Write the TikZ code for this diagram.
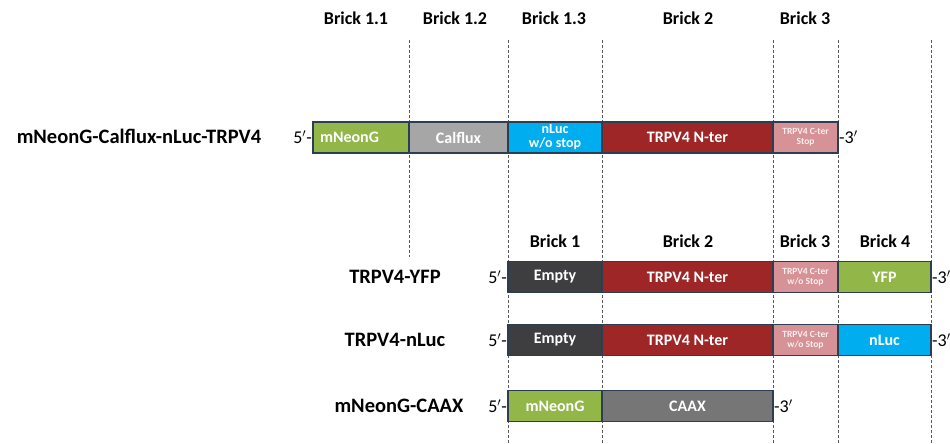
\documentclass[tikz,border=0pt]{standalone}
\usepackage{fontspec}
\setmainfont{Carlito}
\usetikzlibrary{positioning}
\definecolor{neon}{RGB}{146,182,72}
\definecolor{calflux}{RGB}{166,166,166}
\definecolor{luc}{RGB}{0,174,239}
\definecolor{nter}{RGB}{158,38,38}
\definecolor{cter}{RGB}{214,146,150}
\definecolor{empty}{RGB}{62,62,64}
\definecolor{caax}{RGB}{118,118,118}
\definecolor{rim}{RGB}{44,62,80}
\tikzset{brick/.style={font=\bfseries\fontsize{18}{19}\selectfont},
 construct/.style={font=\bfseries\fontsize{20.5}{21}\selectfont},
 seg/.style={draw=rim,line width=1.3pt,minimum height=31pt,inner sep=0pt,outer sep=0pt,
  text=white,font=\bfseries\fontsize{16}{16}\selectfont,align=center},
 small/.style={font=\bfseries\fontsize{9.5}{10}\selectfont,text=white!85!cter},
 guide/.style={densely dashed,gray!70!black,line width=.6pt},
 prime/.style={font=\fontsize{18}{18}\selectfont,inner sep=1pt}}

\begin{document}
\begin{tikzpicture}[x=1pt,y=-1pt]
\useasboundingbox (0,0) rectangle (950,444);
\foreach \gx/\gy in {409/257,508/444,602/444,773/444,838/444,931/444}
 \draw[guide] (\gx,40)--(\gx,\gy);
\foreach \bx/\lbl/\name in {356/1.1/ba,455/1.2/bb,554/1.3/bc,688/2/bd,805/3/be}
 \node[brick] (top\name) at (\bx,18) {Brick \lbl};
\foreach \bx/\lbl/\name in {555/1/ba,688/2/bb,805/3/bc,885/4/bd}
 \node[brick] (low\name) at (\bx,241) {Brick \lbl};
% first construct
\node[construct] (fusion) at (139,136) {mNeonG-Calflux-nLuc-TRPV4};
\node[seg,fill=neon,minimum width=96pt,text width=82pt,align=left] (fneon) at (361,137.5) {mNeonG};
\node[seg,fill=calflux,minimum width=99pt,right=0pt of fneon] (fcal) {Calflux};
\node[seg,fill=luc,minimum width=94pt,right=0pt of fcal,font=\bfseries\fontsize{14}{14}\selectfont] (fluc) {nLuc\\w/o stop};
\node[seg,fill=nter,minimum width=171pt,right=0pt of fluc] (fnter) {TRPV4 N-ter};
\node[seg,fill=cter,minimum width=65pt,right=0pt of fnter,small] (fcter) {TRPV4 C-ter\\Stop};
\node[prime,left=0pt of fneon] (f5) {5$'$-};
\node[prime,right=0pt of fcter] (f3) {-3$'$};
% fusions with TRPV4
\foreach \ry/\tag/\tail/\col/\name in {277/TRPV4-YFP/YFP/neon/yfp,340/TRPV4-nLuc/nLuc/luc/luc} {
 \node[construct] (\name) at (395,\ry) {\tag};
 \node[seg,fill=empty,minimum width=94pt] (\name a) at (555,\ry) {Empty};
 \node[seg,fill=nter,minimum width=171pt,right=0pt of \name a] (\name b) {TRPV4 N-ter};
 \node[seg,fill=cter,minimum width=65pt,right=0pt of \name b,small] (\name c) {TRPV4 C-ter\\w/o Stop};
 \node[seg,fill=\col,minimum width=93pt,right=0pt of \name c] (\name d) {\tail};
 \node[prime,left=0pt of \name a] (\name 5) {5$'$-};
 \node[prime,right=0pt of \name d] (\name 3) {-3$'$};
}
% membrane marker
\node[construct] (caax) at (399,406) {mNeonG-CAAX};
\node[seg,fill=neon,minimum width=94pt] (caaxa) at (555,406) {mNeonG};
\node[seg,fill=caax,minimum width=171pt,right=0pt of caaxa] (caaxb) {CAAX};
\node[prime,left=0pt of caaxa] (caax5) {5$'$-};
\node[prime,right=0pt of caaxb] (caax3) {-3$'$};
\end{tikzpicture}
\end{document}
